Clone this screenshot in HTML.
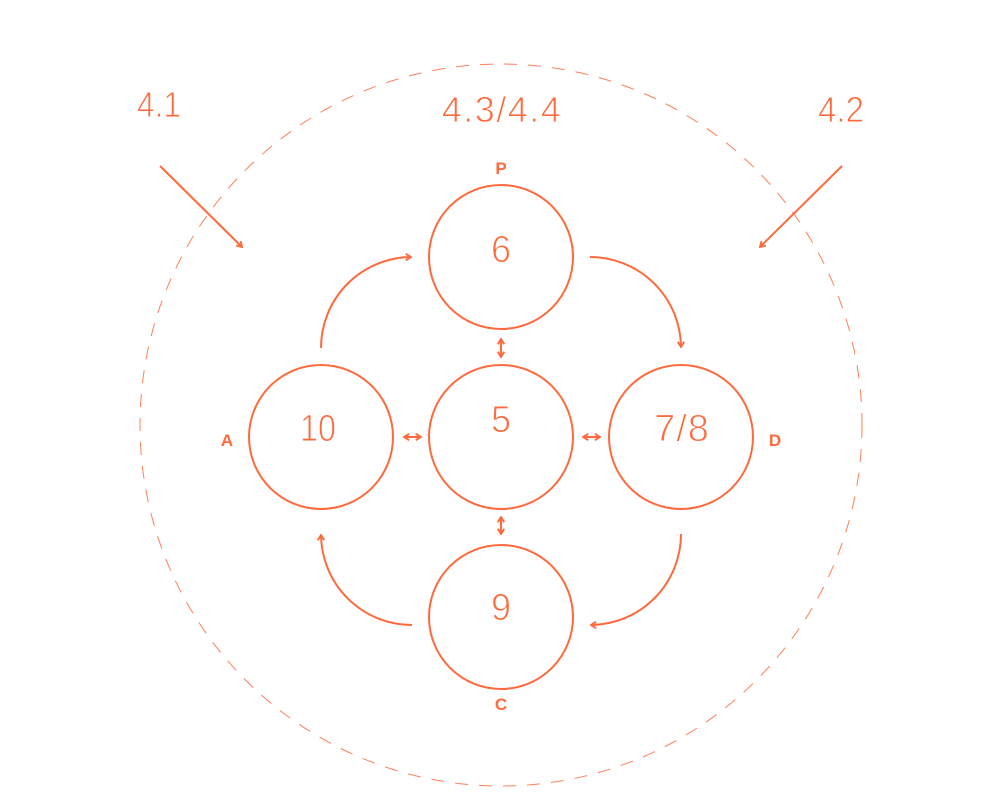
<!DOCTYPE html>
<html><head><meta charset="utf-8"><style>
html,body{margin:0;padding:0;background:#fff;}
svg{display:block;}
</style></head><body>
<svg width="1000" height="800" viewBox="0 0 1000 800" xmlns="http://www.w3.org/2000/svg">
<defs>
<marker id="ah" viewBox="0 0 10 10" refX="8.5" refY="5" markerWidth="8" markerHeight="8" orient="auto-start-reverse" markerUnits="userSpaceOnUse">
<path d="M2,1 L8.5,5 L2,9" fill="none" stroke="#ff6a3d" stroke-width="2.4"/>
</marker>
</defs>
<g fill="none" stroke="#ff6a3d">
<circle cx="501" cy="425" r="361" stroke-width="1" stroke-dasharray="13 11" opacity="0.85"/>
<g stroke-width="2">
<circle cx="501" cy="257" r="72"/>
<circle cx="501" cy="437" r="72"/>
<circle cx="321" cy="437" r="72"/>
<circle cx="681" cy="437" r="72"/>
<circle cx="501" cy="617" r="72"/>
<path d="M321,348 A91,91 0 0 1 411,257" marker-end="url(#ah)"/>
<path d="M590,257 A91,91 0 0 1 681,347" marker-end="url(#ah)"/>
<path d="M681,534 A91,91 0 0 1 591,625" marker-end="url(#ah)"/>
<path d="M412,625 A91,91 0 0 1 321,535" marker-end="url(#ah)"/>
<path d="M160,166 L242,247" marker-end="url(#ah)"/>
<path d="M842,166 L760,247" marker-end="url(#ah)"/>
<path d="M404,437 L421,437" marker-start="url(#ah)" marker-end="url(#ah)"/>
<path d="M583,437 L600,437" marker-start="url(#ah)" marker-end="url(#ah)"/>
<path d="M501,339 L501,357" marker-start="url(#ah)" marker-end="url(#ah)"/>
<path d="M501,517 L501,534" marker-start="url(#ah)" marker-end="url(#ah)"/>
</g>
</g>
<g fill="#ff6a3d" font-family="Liberation Sans, sans-serif" text-anchor="middle">
<g font-size="36" stroke="#fff" stroke-width="0.9">
<text transform="translate(159,117) scale(0.88,1)">4.1</text>
<text x="502" y="122" letter-spacing="1.5">4.3/4.4</text>
<text transform="translate(841,122) scale(0.92,1)">4.2</text>
</g>
<g font-size="38" stroke="#fff" stroke-width="1">
<text transform="translate(501,262) scale(0.95,1)">6</text>
<text transform="translate(318,441) scale(0.85,1)">10</text>
<text transform="translate(501,432) scale(0.95,1)">5</text>
<text x="682" y="441" letter-spacing="1">7/8</text>
<text transform="translate(501,620) scale(0.95,1)">9</text>
</g>
<g font-size="17" font-weight="bold">
<text x="501" y="174">P</text>
<text x="227" y="446">A</text>
<text x="775" y="446">D</text>
<text x="501" y="710">C</text>
</g>
</g>
</svg>
</body></html>
